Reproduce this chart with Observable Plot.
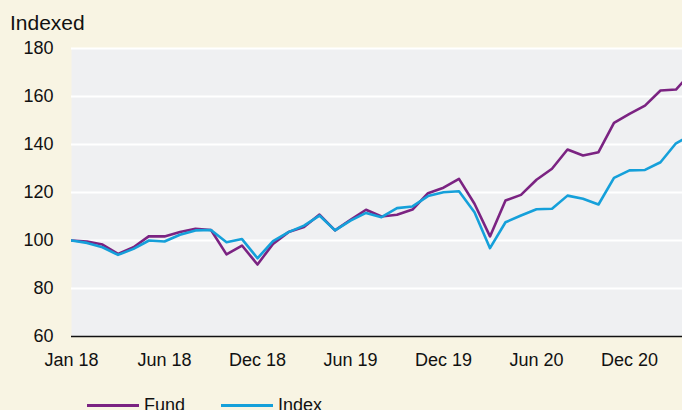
<!DOCTYPE html>
<html>
<head>
<meta charset="utf-8">
<script src="https://cdn.jsdelivr.net/npm/d3@7"></script>
<script src="https://cdn.jsdelivr.net/npm/@observablehq/plot@0.6"></script>
<style>
  html, body { margin: 0; padding: 0; background: #f8f4e3; width: 682px; height: 410px; overflow: hidden; }
  body { font-family: "Liberation Sans", Arial, sans-serif; color: #111; }
  #title { font-size: 21px; line-height: 24px; padding: 11px 0 0 10px; height: 24px; }
  #legend { display: flex; align-items: center; font-size: 18px; line-height: 20px; padding-left: 87px; height: 20px; }
  .sw { display: inline-block; width: 52px; height: 3px; margin-right: 5px; }
  .item { display: flex; align-items: center; margin-right: 36px; }
</style>
</head>
<body>
<div id="title">Indexed</div>
<div id="chart"></div>
<div id="legend"></div>
<script>
const seriesNames = ["Fund", "Index"];
const seriesColors = ["#7b2382", "#15a0da"];
const fund = [100, 99.6, 98.3, 94.4, 97.2, 101.8, 101.7, 103.5, 104.9, 104.4,
  94.2, 97.9, 90.0, 98.6, 103.5, 105.6, 110.8, 104.2, 108.6, 112.8,
  110.0, 110.7, 112.9, 119.7, 122.0, 125.7, 115.3, 101.7, 116.7, 119.0,
  125.3, 129.9, 137.9, 135.4, 136.8, 149.0, 152.8, 156.2, 162.5, 162.9, 170.0];
const index = [100, 99.0, 97.2, 94.0, 96.5, 100.0, 99.6, 102.4, 104.2, 104.4,
  99.3, 100.6, 92.6, 99.7, 103.5, 106.2, 110.4, 104.2, 108.3, 111.5,
  109.7, 113.5, 114.2, 118.5, 120.1, 120.5, 111.8, 96.8, 107.6, 110.4,
  113.0, 113.2, 118.7, 117.4, 115.0, 126.1, 129.2, 129.4, 132.6, 140.5, 144.0];
const tickLabels = ["Jan 18", "Jun 18", "Dec 18", "Jun 19", "Dec 19", "Jun 20", "Dec 20"];
const tickPositions = [0, 6, 12, 18, 24, 30, 36];
const yTicks = [60, 80, 100, 120, 140, 160, 180];

const rows = [];
fund.forEach((v, i) => rows.push({i, v, s: "Fund"}));
index.forEach((v, i) => rows.push({i, v, s: "Index"}));

const chart = Plot.plot({
  width: 682,
  height: 360,
  marginTop: 13,
  marginBottom: 59,
  marginLeft: 71,
  marginRight: 0,
  style: { background: "transparent", fontFamily: "Liberation Sans, Arial, sans-serif", fontSize: "18px", color: "#111" },
  x: { type: "linear", domain: [0, 39.42], ticks: tickPositions, tickFormat: d => tickLabels[tickPositions.indexOf(d)], tickSize: 0, tickPadding: 17, label: null },
  y: { domain: [60, 180], ticks: yTicks, tickSize: 0, tickPadding: 18, label: null },
  color: { domain: seriesNames, range: seriesColors },
  marks: [
    Plot.frame({ fill: "#eff0f2", stroke: null }),
    Plot.ruleY(yTicks.filter(d => d > 60), { stroke: "#ffffff", strokeWidth: 2.2 }),
    Plot.ruleY([60], { stroke: "#111", strokeWidth: 1.5 }),
    Plot.line(rows, { x: "i", y: "v", z: "s", stroke: "s", strokeWidth: 2.6, clip: true })
  ]
});
document.getElementById("chart").appendChild(chart);

const leg = document.getElementById("legend");
seriesNames.forEach((n, k) => {
  const it = document.createElement("span");
  it.className = "item";
  const sw = document.createElement("span");
  sw.className = "sw";
  sw.style.background = seriesColors[k];
  it.appendChild(sw);
  it.appendChild(document.createTextNode(n));
  leg.appendChild(it);
});
</script>
</body>
</html>
